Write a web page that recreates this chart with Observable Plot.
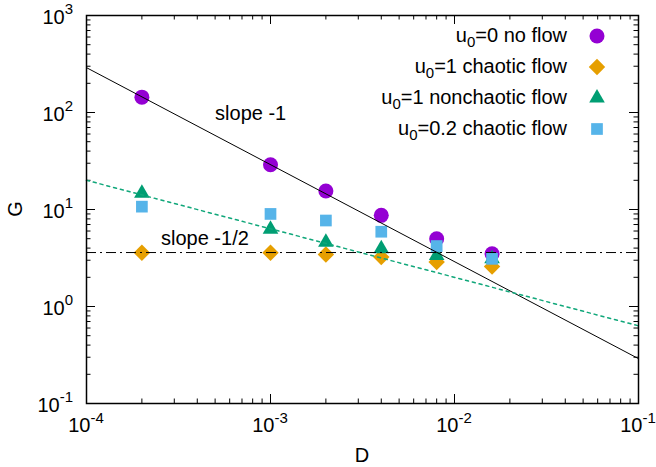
<!DOCTYPE html>
<html><head><meta charset="utf-8">
<script src="https://cdn.jsdelivr.net/npm/d3@7"></script>
<script src="https://cdn.jsdelivr.net/npm/@observablehq/plot@0.6"></script>
<style>body{margin:0;background:#fff;} #chart svg{display:block;}</style>
</head><body><div id="chart"></div>
<script>
// ---- data ----
const D = [2e-4, 1e-3, 2e-3, 4e-3, 8e-3, 1.6e-2];
const gNoFlow      = [144, 28.9, 15.5, 8.7, 5.0, 3.5];
const gChaotic1    = [3.58, 3.58, 3.44, 3.23, 2.87, 2.58];
const gNonchaotic1 = [14.7, 6.27, 4.6, 3.93, 3.36, 3.1];
const gChaotic02   = [10.7, 9.0, 7.7, 5.9, 4.2, 3.1];
const seriesMain = ["u", "u", "u", "u"];
const seriesSub  = ["0", "0", "0", "0"];
const seriesRest = ["=0 no flow", "=1 chaotic flow", "=1 nonchaotic flow", "=0.2 chaotic flow"];
const seriesColors  = ["#9400d3", "#e69f00", "#009e73", "#56b4e9"];
const seriesSymbols = ["circle", "diamond2", "triangle", "square"];
const seriesR       = [7.5, 7.4, 5.8, 6.6];
const fitD         = [1e-4, 1e-1];
const fitSlope1    = [290, 0.29];
const fitSlopeHalf = [20, 0.632];
const plateauG     = [3.6];
const annText = ["slope -1", "slope -1/2"];
const annD    = [7.8e-4, 4.4e-4];
const annG    = [98, 5.0];
const xTickExp = [-4, -3, -2, -1];
const yTickExp = [-1, 0, 1, 2, 3];
const xLabel = "D", yLabel = "G";

// ---- layout ----
const W = 656, H = 467, mL = 86, mR = 18, mT = 15, mB = 64;
const pw = W - mL - mR, ph = H - mT - mB;
const FONT = "'Liberation Sans', Arial, Helvetica, sans-serif";
const FS = 20, FSS = 15;

const gAll = [gNoFlow, gChaotic1, gNonchaotic1, gChaotic02];
const majX = xTickExp.map(e => 10 ** e), majY = yTickExp.map(e => 10 ** e);
const minors = exps => exps.slice(0, -1).flatMap(e => [2,3,4,5,6,7,8,9].map(m => m * 10 ** e));
const minX = minors(xTickExp), minY = minors(yTickExp);
const MAJ = 9, MIN = 4.5;

const dotMarks = gAll.map((g, i) => Plot.dot(D.map((d, j) => ({D: d, G: g[j]})), {
  x: "D", y: "G", symbol: seriesSymbols[i], r: seriesR[i], fill: seriesColors[i], stroke: "none"
}));

const plot = Plot.plot({
  width: W, height: H, marginLeft: mL, marginRight: mR, marginTop: mT, marginBottom: mB,
  style: {fontFamily: FONT, fontSize: FS + "px", background: "#fff"},
  x: {type: "log", domain: [1e-4, 1e-1], axis: null},
  y: {type: "log", domain: [1e-1, 1e3], axis: null},
  marks: [
    Plot.tickX(majX, {x: d => d, insetTop: ph - MAJ, strokeWidth: 1}),
    Plot.tickX(majX, {x: d => d, insetBottom: ph - MAJ, strokeWidth: 1}),
    Plot.tickX(minX, {x: d => d, insetTop: ph - MIN, strokeWidth: 1}),
    Plot.tickX(minX, {x: d => d, insetBottom: ph - MIN, strokeWidth: 1}),
    Plot.tickY(majY, {y: d => d, insetRight: pw - MAJ, strokeWidth: 1}),
    Plot.tickY(majY, {y: d => d, insetLeft: pw - MAJ, strokeWidth: 1}),
    Plot.tickY(minY, {y: d => d, insetRight: pw - MIN, strokeWidth: 1}),
    Plot.tickY(minY, {y: d => d, insetLeft: pw - MIN, strokeWidth: 1}),
    ...dotMarks,
    Plot.line(fitD, {x: d => d, y: (d, i) => fitSlope1[i], stroke: "#000", strokeWidth: 1}),
    Plot.line(fitD, {x: d => d, y: (d, i) => fitSlopeHalf[i], stroke: "#10a77a", strokeWidth: 1.5, strokeDasharray: "3,4"}),
    Plot.ruleY(plateauG, {stroke: "#000", strokeWidth: 1, strokeDasharray: "10,4,2,4"}),
    Plot.text(annText, {x: (d, i) => annD[i], y: (d, i) => annG[i], text: d => d, fontSize: FS, fill: "#000"}),
    Plot.frame({stroke: "#000", strokeWidth: 1.5})
  ]
});

const svg = d3.select(plot);
const sx = plot.scale("x"), sy = plot.scale("y");
svg.attr("font-family", FONT);

// y tick labels
yTickExp.forEach(e => {
  const t = svg.append("text").attr("x", 73).attr("y", sy.apply(10 ** e) + 9)
    .attr("text-anchor", "end").attr("font-size", FS).attr("fill", "#000");
  t.append("tspan").text("10");
  t.append("tspan").attr("dy", -10).attr("font-size", FSS).text(String(e));
});
// x tick labels
xTickExp.forEach(e => {
  const t = svg.append("text").attr("x", sx.apply(10 ** e)).attr("y", H - mB + 29)
    .attr("text-anchor", "middle").attr("font-size", FS).attr("fill", "#000");
  t.append("tspan").text("10");
  t.append("tspan").attr("dy", -9).attr("font-size", FSS).text(String(e));
});
// axis titles
svg.append("text").attr("x", mL + pw / 2).attr("y", H - 5).attr("text-anchor", "middle")
  .attr("font-size", FS).text(xLabel);
svg.append("text").attr("transform", `translate(22,${mT + ph / 2}) rotate(-90)`)
  .attr("text-anchor", "middle").attr("font-size", FS).text(yLabel);

// legend
const legX = W - mR - 41, legTextX = W - mR - 71, legY0 = mT + 21, legDY = 31;
seriesRest.forEach((rest, i) => {
  const y = legY0 + i * legDY;
  const t = svg.append("text").attr("x", legTextX).attr("y", y + 6)
    .attr("text-anchor", "end").attr("font-size", FS).attr("fill", "#000");
  t.append("tspan").text(seriesMain[i]);
  t.append("tspan").attr("dy", 5).attr("font-size", FSS).text(seriesSub[i]);
  t.append("tspan").attr("dy", -5).text(rest);
  const symType = {circle: d3.symbolCircle, diamond2: d3.symbolDiamond2, triangle: d3.symbolTriangle, square: d3.symbolSquare}[seriesSymbols[i]];
  svg.append("path").attr("transform", `translate(${legX},${y})`)
    .attr("d", d3.symbol(symType, Math.PI * seriesR[i] ** 2)())
    .attr("fill", seriesColors[i]);
});

document.getElementById("chart").append(plot);
</script>
</body></html>
